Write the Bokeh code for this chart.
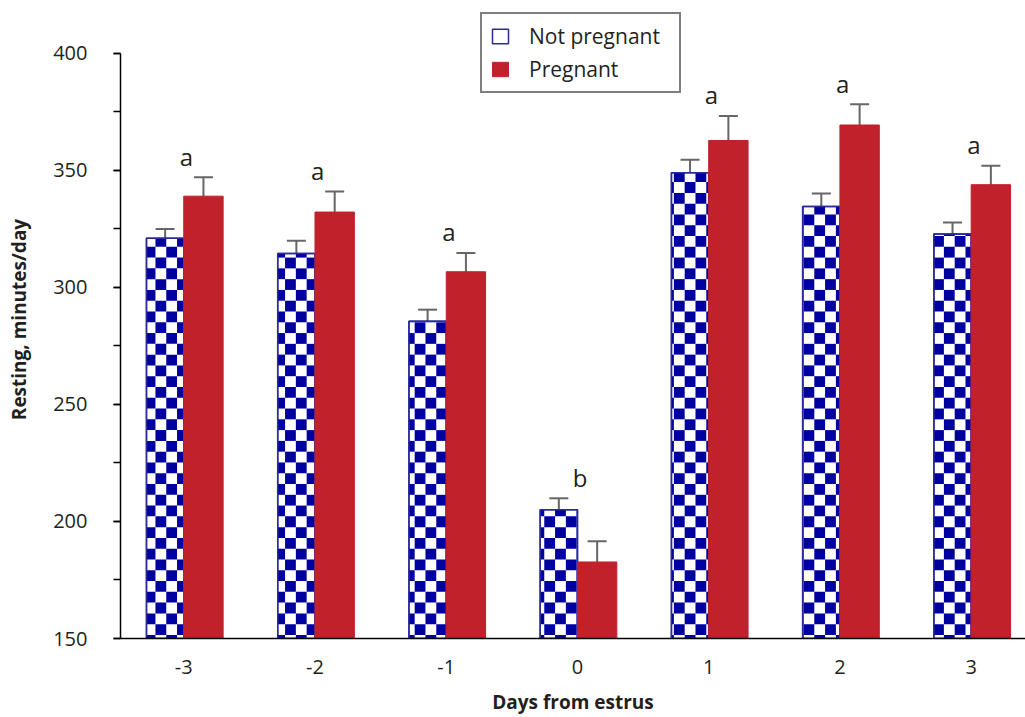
import math
from bokeh.plotting import figure
from bokeh.models import (ColumnDataSource, Range1d, FixedTicker, SingleIntervalTicker,
                          Whisker, TeeHead, Legend, LegendItem)
from bokeh.core.properties import value
from bokeh.embed import file_html
from bokeh.resources import INLINE

# ---------------- data ----------------
days = [-3, -2, -1, 0, 1, 2, 3]
day_labels = ["-3", "-2", "-1", "0", "1", "2", "3"]
not_pregnant = [321.0, 314.5, 285.6, 205.0, 349.0, 334.6, 322.8]
not_pregnant_se = [4.0, 5.5, 4.9, 4.9, 5.6, 5.5, 4.9]
pregnant = [339.0, 332.2, 306.7, 182.7, 362.8, 369.4, 343.9]
pregnant_se = [8.1, 8.8, 8.0, 8.8, 10.5, 8.9, 8.1]
letters = ["a", "a", "a", "b", "a", "a", "a"]
series_names = ["Not pregnant", "Pregnant"]
y_ticks_interval = 50

# ---------------- style ----------------
FONT = "Open Sans"
TXT = "#231f20"
RED = "#c1212b"
NAVY = "#0000a0"
NP_W, P_W = 0.284, 0.30
BASE = 150

p = figure(width=1025, height=717,
           x_range=Range1d(-3.482, 3.414), y_range=Range1d(BASE, 422.6),
           output_backend="svg", toolbar_location=None,
           min_border_left=120, min_border_right=0, min_border_top=0, min_border_bottom=78)
p.outline_line_color = None
p.xgrid.grid_line_color = None
p.ygrid.grid_line_color = None
p.background_fill_color = "white"

np_x = [d - NP_W / 2 for d in days]
p_x = [d + P_W / 2 for d in days]
src = ColumnDataSource(dict(
    day=days, np_x=np_x, p_x=p_x,
    np=not_pregnant, p=pregnant,
    np_lo=[v - e for v, e in zip(not_pregnant, not_pregnant_se)],
    np_hi=[v + e for v, e in zip(not_pregnant, not_pregnant_se)],
    p_lo=[v - e for v, e in zip(pregnant, pregnant_se)],
    p_hi=[v + e for v, e in zip(pregnant, pregnant_se)],
))

# not-pregnant bars: white base
r_np = p.vbar(x="np_x", top="np", bottom=BASE, width=NP_W, source=src,
              fill_color="white", line_color="#2b2b9c", line_width=1.5)

# checkerboard cells (derived from bar values)
dx, dy = 0.0823, 4.607
X0, Y0 = -3.2157, 317.36
cl, cr, cb, ct = [], [], [], []
for cx, v in zip(np_x, not_pregnant):
    L, R = cx - NP_W / 2, cx + NP_W / 2
    k0 = math.floor((L - X0) / dx)
    k1 = math.floor((R - X0) / dx - 1e-9)
    j0 = math.floor((BASE - Y0) / dy)
    j1 = math.floor((v - Y0) / dy - 1e-9)
    for k in range(k0, k1 + 1):
        for j in range(j0, j1 + 1):
            if (k + j) % 2 == 0:
                l = max(L, X0 + k * dx); r = min(R, X0 + (k + 1) * dx)
                b = max(BASE, Y0 + j * dy); t = min(v, Y0 + (j + 1) * dy)
                if r > l and t > b:
                    cl.append(l); cr.append(r); cb.append(b); ct.append(t)
p.quad(left=cl, right=cr, bottom=cb, top=ct, fill_color=NAVY, line_color=None)
p.vbar(x="np_x", top="np", bottom=BASE, width=NP_W, source=src,
       fill_alpha=0, line_color="#2b2b9c", line_width=1.5)

r_p = p.vbar(x="p_x", top="p", bottom=BASE, width=P_W, source=src,
             fill_color=RED, line_color=RED, line_width=1)

for base, lo, hi in (("np_x", "np_lo", "np_hi"), ("p_x", "p_lo", "p_hi")):
    w = Whisker(source=src, base=base, lower=lo, upper=hi,
                line_color="#666666", line_width=2,
                upper_head=TeeHead(size=19, line_color="#666666", line_width=2),
                lower_head=TeeHead(size=19, line_color="#666666", line_width=2))
    p.add_layout(w)

letter_y = [max(a, b) + 9.0 for a, b in zip(src.data["np_hi"], src.data["p_hi"])]
p.text(x=[d + 0.02 for d in days], y=letter_y, text=letters,
       text_font=value(FONT), text_font_size="24px", text_color=TXT,
       text_align="center", text_baseline="alphabetic")

# axes
xa = p.xaxis[0]
xa.ticker = FixedTicker(ticks=days)
xa.major_label_overrides = {d: s for d, s in zip(days, day_labels)}
xa.major_tick_out = 0; xa.major_tick_in = 0
xa.minor_tick_out = 0; xa.minor_tick_in = 0
xa.axis_line_color = "black"; xa.axis_line_width = 1.5
xa.major_label_text_font = FONT; xa.major_label_text_font_size = "20px"
xa.major_label_text_color = TXT; xa.major_label_standoff = 21
xa.axis_label = "Days from estrus"
xa.axis_label_text_font = FONT; xa.axis_label_text_font_size = "19px"
xa.axis_label_text_font_style = "bold"; xa.axis_label_text_color = TXT
xa.axis_label_standoff = 12

ya = p.yaxis[0]
ya.ticker = SingleIntervalTicker(interval=y_ticks_interval, num_minor_ticks=2)
ya.bounds = (BASE, 400)
ya.major_tick_out = 7; ya.major_tick_in = 0
ya.minor_tick_out = 7; ya.minor_tick_in = 0
ya.major_tick_line_width = 1.5; ya.minor_tick_line_width = 1.5
ya.axis_line_color = "black"; ya.axis_line_width = 1.5
ya.major_label_text_font = FONT; ya.major_label_text_font_size = "20px"
ya.major_label_text_color = TXT; ya.major_label_standoff = 26
ya.axis_label = "Resting, minutes/day"
ya.axis_label_text_font = FONT; ya.axis_label_text_font_size = "19px"
ya.axis_label_text_font_style = "bold"; ya.axis_label_text_color = TXT
ya.axis_label_standoff = 18

legend = Legend(items=[LegendItem(label=series_names[0], renderers=[r_np]),
                       LegendItem(label=series_names[1], renderers=[r_p])],
                location=(360, 545))
legend.border_line_color = "black"; legend.border_line_width = 2
legend.label_text_font = FONT; legend.label_text_font_size = "21px"
legend.label_text_color = TXT
legend.glyph_width = 20; legend.glyph_height = 18
legend.label_standoff = 19; legend.spacing = 5
legend.label_width = 142
legend.padding = 8; legend.margin = 0
p.add_layout(legend)

open("out.html", "w").write(file_html(p, INLINE))
